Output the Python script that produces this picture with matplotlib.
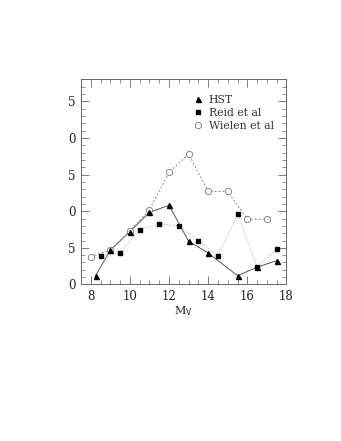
import matplotlib
matplotlib.use("Agg")
import matplotlib.pyplot as plt
from matplotlib.ticker import MultipleLocator, FixedLocator, FixedFormatter

# ── data ───────────────────────────────────────────────────────────────────────
hst_x   = [8.25, 9.0, 10.0, 11.0, 12.0, 13.0, 14.0, 15.5, 16.5, 17.5]
hst_y   = [1.2, 4.7, 7.2, 9.85, 10.8, 5.9, 4.3, 1.2, 2.35, 3.25]

reid_x  = [8.5, 9.5, 10.5, 11.5, 12.5, 13.5, 14.5, 15.5, 16.5, 17.5]
reid_y  = [3.9, 4.35, 7.45, 8.25, 8.0, 6.0, 3.9, 9.6, 2.4, 4.8]

wiel_x  = [8.0, 9.0, 10.0, 11.0, 12.0, 13.0, 14.0, 15.0, 16.0, 17.0]
wiel_y  = [3.8, 4.7, 7.3, 10.2, 15.3, 17.8, 12.7, 12.7, 8.9, 8.9]

y_ticks       = [0, 5, 10, 15, 20, 25]
y_tick_labels = ["0", "5", "0", "5", "0", "5"]   # leading digits are cut off in the original
x_ticks       = [8, 10, 12, 14, 16, 18]

plt.rcParams["font.family"] = ["DejaVu Serif"]

fig = plt.figure(figsize=(3.41, 4.41), dpi=100)
ax = fig.add_axes([0.2375, 0.355, 0.6025, 0.465])

ax.plot(hst_x, hst_y, color="#555555", lw=0.7, ls="-", zorder=2)
ax.plot(reid_x, reid_y, color="#aaaaaa", lw=0.7, ls=(0, (1, 1.5)), zorder=2)
ax.plot(wiel_x, wiel_y, color="#888888", lw=0.7, ls=(0, (2, 2)), zorder=2)

ax.plot(wiel_x, wiel_y, ls="none", marker="o", ms=4.5, mfc="white",
        mec="#777777", mew=0.6, zorder=3, label="Wielen et al")
ax.plot(reid_x, reid_y, ls="none", marker="s", ms=3.2, color="black", zorder=4,
        label="Reid et al")
ax.plot(hst_x, hst_y, ls="none", marker="^", ms=3.6, color="black", zorder=5,
        label="HST")

ax.set_xlim(7.5, 18)
ax.set_ylim(0, 28)

ax.xaxis.set_major_locator(FixedLocator(x_ticks))
ax.xaxis.set_minor_locator(MultipleLocator(0.5))
ax.yaxis.set_major_locator(FixedLocator(y_ticks))
ax.yaxis.set_major_formatter(FixedFormatter(y_tick_labels))
ax.yaxis.set_minor_locator(MultipleLocator(1))

ax.tick_params(which="both", direction="in", top=True, right=True,
               color="#666666", labelsize=8.5, labelcolor="#222222")
ax.tick_params(which="major", length=6, width=0.6, pad=4)
ax.tick_params(which="minor", length=3, width=0.5)
for s in ax.spines.values():
    s.set_color("#666666")
    s.set_linewidth(0.7)

ax.set_xlabel(r"M$_{\mathrm{V}}$", fontsize=8, labelpad=1, color="#222222")

handles, labels = ax.get_legend_handles_labels()
order = [2, 1, 0]
ax.legend([handles[i] for i in order], [labels[i] for i in order],
          loc="upper left", bbox_to_anchor=(0.5, 0.97), frameon=False,
          fontsize=7.8, handlelength=0.8, handletextpad=0.6, labelspacing=0.25,
          labelcolor="#333333")

fig.savefig("out.png", dpi=100)
